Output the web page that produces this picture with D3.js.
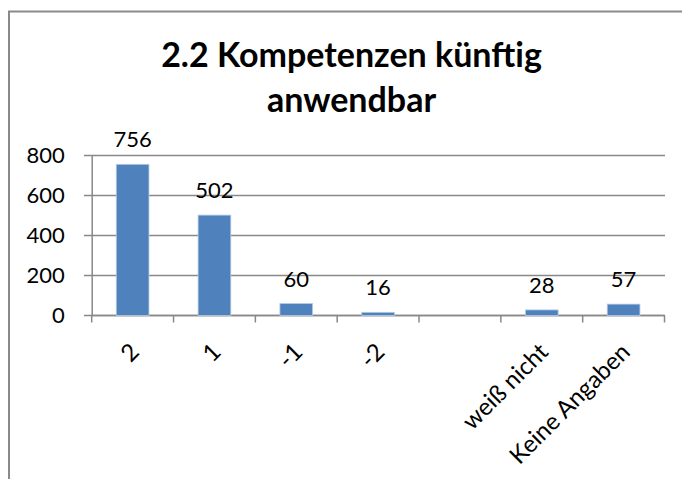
<!DOCTYPE html>
<html>
<head>
<meta charset="utf-8">
<script src="https://cdn.jsdelivr.net/npm/d3@7"></script>
<style>
  html, body { margin: 0; padding: 0; background: #fff; }
  svg { display: block; font-family: Lato, "Open Sans", sans-serif; }
</style>
</head>
<body>
<script>
const categories = ["2", "1", "-1", "-2", "", "weiß nicht", "Keine Angaben"];
const values = [756, 502, 60, 16, null, 28, 57];
const yTicks = [0, 200, 400, 600, 800];
const titleLines = ["2.2 Kompetenzen künftig", "anwendbar"];

const W = 682, H = 479;
const svg = d3.select("body").append("svg").attr("width", W).attr("height", H);

// outer chart border (only top & left visible)
svg.append("rect").attr("x", 9).attr("y", 11.5).attr("width", 700).attr("height", 500)
  .attr("fill", "none").attr("stroke", "#8a8a8a").attr("stroke-width", 2);

const x = d3.scaleBand().domain(categories.map((c, i) => i)).range([91.7, 664.5]).paddingInner(0.6).paddingOuter(0.3);
const xb = d3.scaleBand().domain(categories.map((c, i) => i)).range([91.7, 664.5]);
const y = d3.scaleLinear().domain([0, 800]).range([315.5, 155.5]);

// gridlines
svg.append("g").selectAll("line").data(yTicks).join("line")
  .attr("x1", 84).attr("x2", 665).attr("y1", d => y(d)).attr("y2", d => y(d))
  .attr("stroke", "#888").attr("stroke-width", 1.5);

// y axis
const yAxis = svg.append("g").attr("transform", "translate(91.7,0)")
  .call(d3.axisLeft(y).tickValues(yTicks).tickSize(0).tickPadding(27));
yAxis.select(".domain").attr("stroke", "#888").attr("stroke-width", 1.5);
yAxis.selectAll("text").attr("font-size", 22).attr("fill", "#000").attr("font-family", "Lato");

// x axis
const xAxis = svg.append("g").attr("transform", `translate(0,${y(0)})`);
xAxis.append("line").attr("x1", 91.7).attr("x2", 664.5).attr("y1", 0).attr("y2", 0)
  .attr("stroke", "#888").attr("stroke-width", 1.5);
const tickPos = categories.map((c, i) => xb(i)).concat([xb.range()[1]]);
xAxis.selectAll("line.tick").data(tickPos).join("line").attr("class", "tick")
  .attr("x1", d => d).attr("x2", d => d).attr("y1", 0).attr("y2", 7)
  .attr("stroke", "#888").attr("stroke-width", 1.5);

// bars
const data = categories.map((c, i) => ({ c, i, v: values[i] })).filter(d => d.v != null);
svg.append("g").selectAll("rect").data(data).join("rect")
  .attr("x", d => x(d.i)).attr("width", x.bandwidth())
  .attr("y", d => y(d.v)).attr("height", d => y(0) - y(d.v))
  .attr("fill", "#4f81bd").attr("stroke", "#b9cde5").attr("stroke-width", 0.8);

// value labels
svg.append("g").selectAll("text").data(data).join("text")
  .attr("x", d => xb(d.i) + xb.bandwidth() / 2).attr("y", d => y(d.v) - 17)
  .attr("text-anchor", "middle").attr("font-size", 22).attr("fill", "#000")
  .text(d => d.v);

// category labels
svg.append("g").selectAll("text").data(categories.map((c, i) => ({ c, i }))).join("text")
  .attr("transform", d => `translate(${xb(d.i) + xb.bandwidth() / 2 + 2},${y(0) + 32}) rotate(-45)`)
  .attr("text-anchor", "end").attr("font-size", 24).attr("fill", "#000")
  .attr("dy", "0.35em")
  .text(d => d.c);

// title
svg.append("g").selectAll("text").data(titleLines).join("text")
  .attr("x", 351.5).attr("y", (d, i) => 67 + i * 44.7)
  .attr("text-anchor", "middle").attr("font-size", 34).attr("font-weight", "bold").attr("fill", "#000")
  .text(d => d);
</script>
</body>
</html>
